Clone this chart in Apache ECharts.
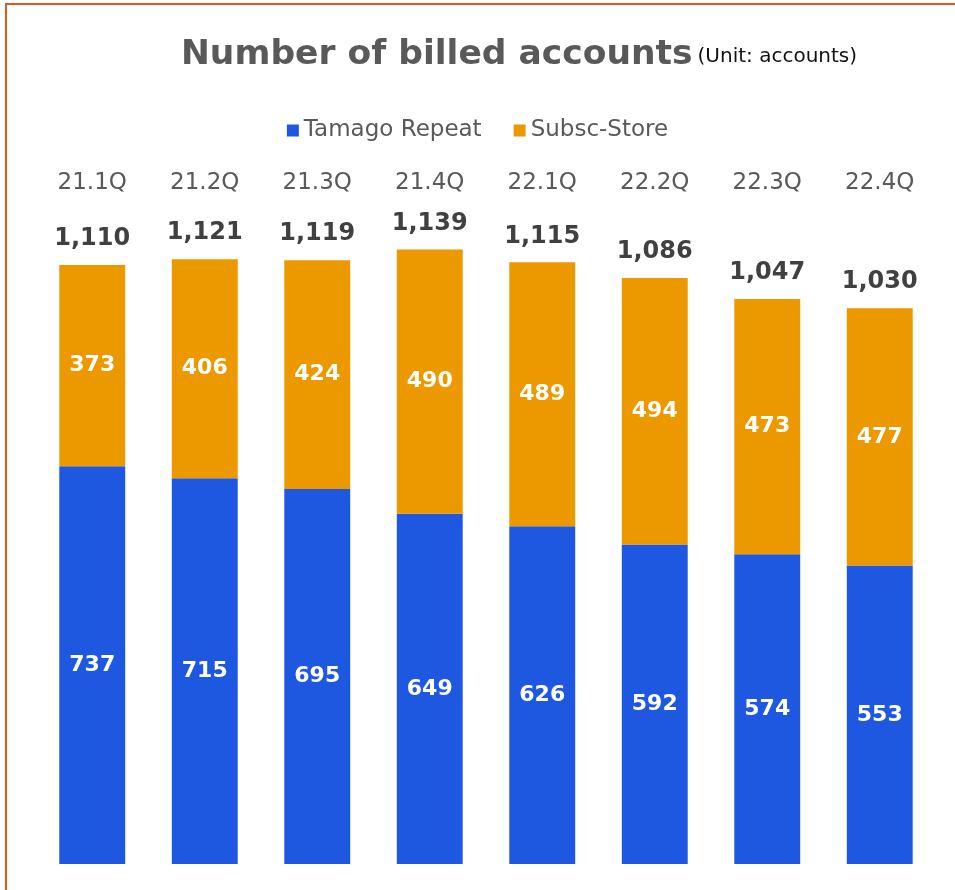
<!DOCTYPE html>
<html>
<head>
<meta charset="utf-8">
<script src="https://cdn.jsdelivr.net/npm/echarts@6/dist/echarts.min.js"></script>
<style>
  html, body { margin: 0; padding: 0; background: #fff; }
  #chart { width: 955px; height: 890px; }
</style>
</head>
<body>
<div id="chart"></div>
<script>
// quarters and values (accounts)
var quarters = ['21.1Q', '21.2Q', '21.3Q', '21.4Q', '22.1Q', '22.2Q', '22.3Q', '22.4Q'];
var tamagoRepeat = [737, 715, 695, 649, 626, 592, 574, 553];
var subscStore = [373, 406, 424, 490, 489, 494, 473, 477];
var totals = [1110, 1121, 1119, 1139, 1115, 1086, 1047, 1030];

var fontFam = '"DejaVu Sans", "Noto Sans", sans-serif';

var chart = echarts.init(document.getElementById('chart'));
var option = {
    backgroundColor: '#ffffff',
    animation: false,
    title: {
        left: 176,
        top: 33,
        text: '{a|Number of billed accounts} {b|(Unit: accounts)}',
        textStyle: {
            rich: {
                a: { fontFamily: fontFam, fontSize: 34.5, fontWeight: 'bold', color: '#595959' },
                b: { fontFamily: fontFam, fontSize: 20, fontWeight: 'normal', color: '#111111', verticalAlign: 'bottom', padding: [0, 0, 6, 0] }
            }
        }
    },
    legend: {
        top: 114,
        left: 'center',
        itemWidth: 12,
        itemHeight: 12,
        itemGap: 32,
        icon: 'rect',
        textStyle: { fontFamily: fontFam, fontSize: 23, color: '#595959' },
        data: ['Tamago Repeat', 'Subsc-Store']
    },
    grid: { left: 36, right: 19, top: 216.5, bottom: 26 },
    xAxis: {
        type: 'category',
        position: 'top',
        data: quarters,
        axisLine: { show: false },
        axisTick: { show: false },
        axisLabel: { margin: 22, fontFamily: fontFam, fontSize: 23, color: '#595959' }
    },
    yAxis: {
        type: 'value',
        min: 0,
        max: 1200,
        show: false,
        splitLine: { show: false }
    },
    series: [
        {
            name: 'Tamago Repeat',
            type: 'bar',
            stack: 'all',
            barWidth: '58.6%',
            itemStyle: { color: '#1E58E0' },
            label: {
                show: true,
                position: 'inside',
                fontFamily: fontFam,
                fontSize: 22,
                fontWeight: 'bold',
                color: '#ffffff'
            },
            data: tamagoRepeat
        },
        {
            name: 'Subsc-Store',
            type: 'bar',
            stack: 'all',
            itemStyle: { color: '#EC9900' },
            label: {
                show: true,
                position: 'inside',
                fontFamily: fontFam,
                fontSize: 22,
                fontWeight: 'bold',
                color: '#ffffff'
            },
            data: subscStore
        },
        {
            // totals on top of the stacks
            name: 'total',
            type: 'bar',
            stack: 'all',
            silent: true,
            itemStyle: { color: 'transparent' },
            label: {
                show: true,
                position: 'insideBottom',
                distance: 14,
                fontFamily: fontFam,
                fontSize: 24,
                fontWeight: 'bold',
                color: '#404040',
                formatter: function (p) {
                    return totals[p.dataIndex].toLocaleString('en-US');
                }
            },
            data: totals.map(function () { return 0; })
        }
    ],
    graphic: [
        {
            type: 'rect',
            silent: true,
            shape: { x: 6, y: 4, width: 1200, height: 1200 },
            style: { fill: 'none', stroke: '#E05A1B', lineWidth: 2 }
        }
    ]
};
chart.setOption(option);
</script>
</body>
</html>
